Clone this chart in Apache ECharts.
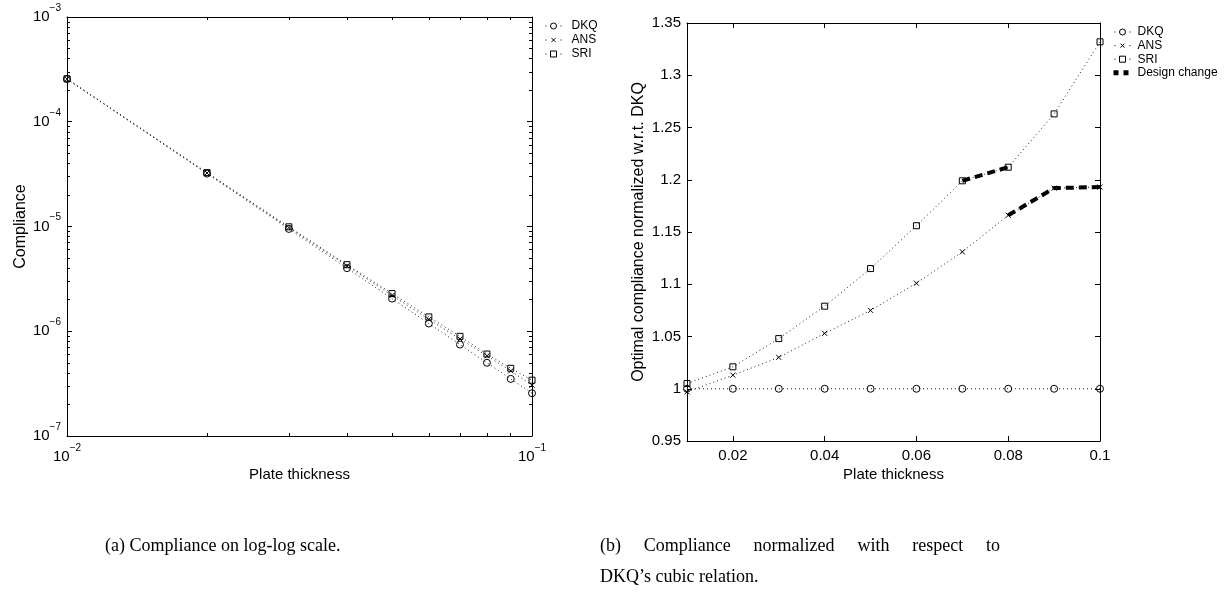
<!DOCTYPE html>
<html><head><meta charset="utf-8">
<script src="https://cdn.jsdelivr.net/npm/echarts@6/dist/echarts.min.js"></script>
<style>html,body{margin:0;padding:0;background:#fff}#c{width:1226px;height:592px}</style>
</head><body><div id="c"></div>
<script>
// ---- data ----
const thickness = [0.01, 0.02, 0.03, 0.04, 0.05, 0.06, 0.07, 0.08, 0.09, 0.1];
const compDKQ = [2.56e-4, 3.2e-5, 9.48e-6, 4.0e-6, 2.05e-6, 1.185e-6, 7.46e-7, 5.0e-7, 3.51e-7, 2.56e-7];
const compANS = [2.55e-4, 3.24e-5, 9.76e-6, 4.21e-6, 2.20e-6, 1.30e-6, 8.44e-7, 5.83e-7, 4.18e-7, 3.05e-7];
const compSRI = [2.57e-4, 3.27e-5, 9.93e-6, 4.32e-6, 2.29e-6, 1.37e-6, 8.94e-7, 6.06e-7, 4.43e-7, 3.41e-7];
const normDKQ = [1, 1, 1, 1, 1, 1, 1, 1, 1, 1];
const normANS = [0.997, 1.013, 1.030, 1.053, 1.075, 1.101, 1.131, 1.166, 1.192, 1.193];
const normSRI = [1.005, 1.021, 1.048, 1.079, 1.115, 1.156, 1.199, 1.212, 1.263, 1.332];
const designChangeSRIx = [0.07, 0.08];
const designChangeANSx = [0.08, 0.09, 0.1];
const rightXTicks = [0.02, 0.04, 0.06, 0.08, 0.1];
const leftXMinorTicks = [0.02, 0.03, 0.04, 0.05, 0.06, 0.07, 0.08, 0.09];
const logMantissas = [2, 3, 4, 5, 6, 7, 8, 9];
const logDecades = [-7, -6, -5, -4];
const captionA = '(a) Compliance on log-log scale.';
const captionBLine1 = ['(b)', 'Compliance', 'normalized', 'with', 'respect', 'to'];
const captionBLine2 = 'DKQ\u2019s cubic relation.';

const yMinorTicks = [];
logDecades.forEach(d => logMantissas.forEach(m => yMinorTicks.push(m * Math.pow(10, d))));

const pair = (xs, ys) => xs.map((x, i) => [x, ys[i]]);
const pickPairs = (xs, ys) => xs.map(x => [x, ys[thickness.indexOf(x)]]);

const FONT = 'Liberation Sans';
const SERIF = 'Liberation Serif';
const dotted = { color: '#222', width: 1, type: [1, 3] };
const hollow = { color: 'rgba(0,0,0,0)', borderColor: '#000', borderWidth: 1 };
const crossPath = 'path://M0,0L10,10M10,0L0,10';

// legend icons (20 x 8 box)
const BOX = 'path://M0,0M20,8';
const DOTS = 'M2,4h1M17,4h1';
const iconCircle = BOX + DOTS + 'M13,4A3,3 0 1 1 7,4A3,3 0 1 1 13,4Z';
const iconCross = BOX + DOTS + 'M8,2L12,6M12,2L8,6';
const iconRect = BOX + DOTS + 'M7,1H13V7H7Z';
const iconDash = 'path://M0,0M20,8M1,1.5H6V6.5H1ZM11,1.5H16V6.5H11Z';

const supLabel = v => '{b|10}{s|\u2212' + Math.abs(Math.round(Math.log10(v))) + '}';
const rich = {
  b: { fontSize: 15, fontFamily: FONT, color: '#000', lineHeight: 16 },
  s: { fontSize: 10, fontFamily: FONT, color: '#000', lineHeight: 10, padding: [0, 0, 18, 0] }
};
const axisLine = { show: true, onZero: false, lineStyle: { color: '#000', width: 1 } };
const noLabel = { show: false };

function logAxisX(pos, grid, extra) {
  return Object.assign({
    type: 'log', logBase: 10, min: 0.01, max: 0.1, gridIndex: grid, position: pos,
    axisLine: axisLine, splitLine: { show: false },
    axisTick: { show: true, inside: true, length: 3, customValues: leftXMinorTicks, lineStyle: { color: '#000' } },
    axisLabel: noLabel
  }, extra || {});
}
function logAxisY(pos, minor, extra) {
  return Object.assign({
    type: 'log', logBase: 10, min: 1e-7, max: 1e-3, gridIndex: 0, position: pos,
    axisLine: minor ? { show: false } : axisLine, splitLine: { show: false },
    axisTick: minor
      ? { show: true, inside: true, length: 3, customValues: yMinorTicks, lineStyle: { color: '#000' } }
      : { show: true, inside: true, length: 5, lineStyle: { color: '#000' } },
    axisLabel: noLabel
  }, extra || {});
}
function linX(pos, extra) {
  return Object.assign({
    type: 'value', min: 0.01, max: 0.1, gridIndex: 1, position: pos,
    axisLine: axisLine, splitLine: { show: false },
    axisTick: { show: true, inside: true, length: 5, customValues: rightXTicks, lineStyle: { color: '#000' } },
    axisLabel: noLabel
  }, extra || {});
}
function linY(pos, extra) {
  return Object.assign({
    type: 'value', min: 0.95, max: 1.35, interval: 0.05, gridIndex: 1, position: pos,
    axisLine: axisLine, splitLine: { show: false },
    axisTick: { show: true, inside: true, length: 5, lineStyle: { color: '#000' } },
    axisLabel: noLabel
  }, extra || {});
}

const legendText = { fontSize: 12, color: '#000', fontFamily: FONT };
const legendItems = [
  { name: 'DKQ', icon: iconCircle, itemStyle: hollow },
  { name: 'ANS', icon: iconCross, itemStyle: hollow },
  { name: 'SRI', icon: iconRect, itemStyle: hollow }
];

const chart = echarts.init(document.getElementById('c'));
const wordX = [600, 643.8, 753.6, 857.4, 912.2, 986];

chart.setOption({
  animation: false,
  backgroundColor: '#fff',
  textStyle: { fontFamily: FONT },
  grid: [
    { left: 67, top: 17, right: 694, bottom: 156 },
    { left: 687, top: 23, right: 126, bottom: 151 }
  ],
  xAxis: [
    logAxisX('bottom', 0, {
      axisLabel: { show: true, margin: 13, formatter: supLabel, rich: rich },
      name: 'Plate thickness', nameLocation: 'middle', nameGap: 31, nameMoveOverlap: false,
      nameTextStyle: { fontSize: 15, fontFamily: FONT, color: '#000' }
    }),
    logAxisX('top', 0),
    linX('bottom', {
      axisLabel: { show: true, margin: 7, customValues: rightXTicks, fontSize: 15, color: '#000', fontFamily: FONT,
        formatter: v => String(+v.toFixed(2)) },
      name: 'Plate thickness', nameLocation: 'middle', nameGap: 26, nameMoveOverlap: false,
      nameTextStyle: { fontSize: 15, fontFamily: FONT, color: '#000' }
    }),
    linX('top')
  ],
  yAxis: [
    logAxisY('left', false, {
      axisLabel: { show: true, margin: 6, formatter: supLabel, rich: rich },
      name: 'Compliance', nameLocation: 'middle', nameGap: 38,
      nameTextStyle: { fontSize: 16, fontFamily: FONT, color: '#000' }
    }),
    logAxisY('right', false),
    logAxisY('left', true),
    logAxisY('right', true),
    linY('left', {
      axisLabel: { show: true, margin: 6, fontSize: 15, color: '#000', fontFamily: FONT,
        formatter: v => String(+v.toFixed(2)) },
      name: 'Optimal compliance normalized w.r.t. DKQ', nameLocation: 'middle', nameGap: 40,
      nameTextStyle: { fontSize: 16, fontFamily: FONT, color: '#000' }
    }),
    linY('right')
  ],
  legend: [
    { data: legendItems, orient: 'vertical', left: 538, top: 15, itemWidth: 20, itemHeight: 8, itemGap: 2,
      textStyle: Object.assign({ lineHeight: 12, padding: [0, 0, 0, 3] }, legendText), selectedMode: false },
    { data: legendItems.concat([{ name: 'Design change', icon: iconDash, itemStyle: { color: '#000', borderWidth: 0 } }]),
      orient: 'vertical', left: 1107, top: 21, itemWidth: 20, itemHeight: 8, itemGap: 1.6,
      textStyle: Object.assign({ lineHeight: 12 }, legendText), selectedMode: false }
  ],
  graphic: [
    { type: 'text', left: 105, top: 537, style: { text: captionA, font: '18px "' + SERIF + '"', fill: '#000' } }
  ].concat(captionBLine1.map((w, i) => ({
    type: 'text', left: wordX[i], top: 537, style: { text: w, font: '18px "' + SERIF + '"', fill: '#000' }
  }))).concat([
    { type: 'text', left: 600, top: 568, style: { text: captionBLine2, font: '18px "' + SERIF + '"', fill: '#000' } }
  ]),
  series: [
    { name: 'DKQ', type: 'line', xAxisIndex: 0, yAxisIndex: 0, data: pair(thickness, compDKQ),
      symbol: 'circle', symbolSize: 7, lineStyle: dotted, itemStyle: hollow, z: 3 },
    { name: 'ANS', type: 'line', xAxisIndex: 0, yAxisIndex: 0, data: pair(thickness, compANS),
      symbol: crossPath, symbolSize: 5, lineStyle: dotted, itemStyle: hollow, z: 3 },
    { name: 'SRI', type: 'line', xAxisIndex: 0, yAxisIndex: 0, data: pair(thickness, compSRI),
      symbol: 'rect', symbolSize: 6, lineStyle: dotted, itemStyle: hollow, z: 3 },
    { name: 'DKQ', type: 'line', xAxisIndex: 2, yAxisIndex: 4, data: pair(thickness, normDKQ),
      symbol: 'circle', symbolSize: 7, lineStyle: dotted, itemStyle: hollow, z: 3 },
    { name: 'ANS', type: 'line', xAxisIndex: 2, yAxisIndex: 4, data: pair(thickness, normANS),
      symbol: crossPath, symbolSize: 5, lineStyle: dotted, itemStyle: hollow, z: 3 },
    { name: 'SRI', type: 'line', xAxisIndex: 2, yAxisIndex: 4, data: pair(thickness, normSRI),
      symbol: 'rect', symbolSize: 6, lineStyle: dotted, itemStyle: hollow, z: 3 },
    { name: 'Design change', type: 'line', xAxisIndex: 2, yAxisIndex: 4, data: pickPairs(designChangeSRIx, normSRI),
      symbol: 'none', lineStyle: { color: '#000', width: 4, type: [8, 5] }, itemStyle: { color: '#000' }, z: 2 },
    { name: 'Design change', type: 'line', xAxisIndex: 2, yAxisIndex: 4, data: pickPairs(designChangeANSx, normANS),
      symbol: 'none', lineStyle: { color: '#000', width: 4, type: [8, 5] }, itemStyle: { color: '#000' }, z: 2 }
  ]
});
</script></body></html>
